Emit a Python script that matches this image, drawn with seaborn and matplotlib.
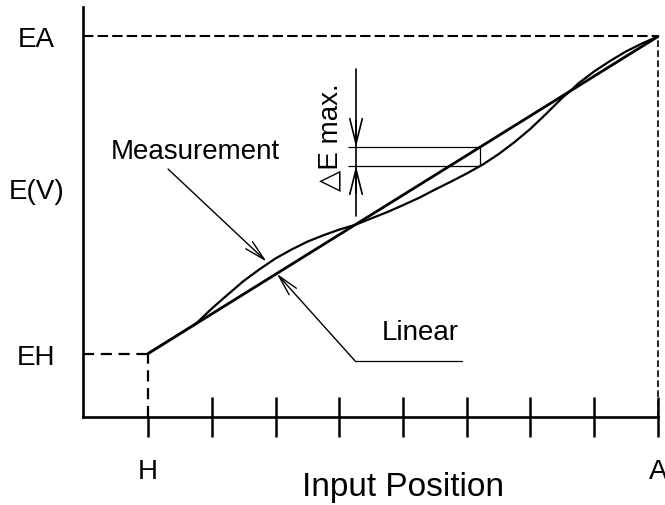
import matplotlib
matplotlib.use('Agg')
import matplotlib.pyplot as plt
import pandas as pd
import seaborn as sns

# ---- data ----
positions = [0, 1, 2, 3, 4, 5, 6, 7, 8]
tick_labels = ['H', '', '', '', '', '', '', '', 'A']
e_levels = [0.2, 1.2]
e_labels = ['EH', 'EA']

linear_x = [0, 8]
linear_e = [0.2, 1.2]

meas_x = [0, 0.75, 1.0, 1.25, 1.5, 1.75, 2.0, 2.25, 2.5, 2.75, 3.0, 3.25,
          3.5, 3.75, 4.0, 4.25, 4.5, 4.75, 5.0, 5.25, 5.5, 5.75, 6.0, 6.25,
          6.5, 6.625, 6.75, 7.0, 7.25, 7.5, 7.75, 8.0]
meas_e = [0.200, 0.294, 0.342, 0.386, 0.429, 0.466, 0.500, 0.528, 0.553,
          0.573, 0.591, 0.606, 0.626, 0.646, 0.668, 0.691, 0.717, 0.742,
          0.768, 0.796, 0.829, 0.867, 0.909, 0.957, 1.007, 1.028, 1.052,
          1.090, 1.123, 1.153, 1.178, 1.200]

dE_x = 5.21
dE_top = 0.851
dE_bottom = 0.792

# ---- style ----
sns.set_style('white')
plt.rcParams['font.family'] = ['Liberation Sans', 'DejaVu Sans']
plt.rcParams['text.color'] = 'black'
plt.rcParams['axes.labelcolor'] = 'black'
plt.rcParams['xtick.color'] = 'black'
plt.rcParams['ytick.color'] = 'black'

fig = plt.figure(figsize=(6.65, 5.06), dpi=100)
ax = fig.add_axes([83 / 665, 88 / 506, 582 / 665, 410 / 506])
ax.set_xlim(-1.02, 8.11)
ax.set_ylim(0, 1.293)

lin_df = pd.DataFrame({'x': linear_x, 'E': linear_e})
meas_df = pd.DataFrame({'x': meas_x, 'E': meas_e})
sns.lineplot(data=lin_df, x='x', y='E', ax=ax, color='black', lw=2.0,
             estimator=None)
sns.lineplot(data=meas_df, x='x', y='E', ax=ax, color='black', lw=1.6,
             estimator=None)

# dashed reference lines
xmin = ax.get_xlim()[0]
ax.hlines(e_levels[0], xmin, positions[0], colors='black', lw=1.6,
          linestyles=(0, (5, 3)))
ax.vlines(positions[0], 0, e_levels[0], colors='black', lw=1.6,
          linestyles=(0, (5, 3)))
ax.hlines(e_levels[1], xmin, positions[-1], colors='black', lw=1.5,
          linestyles=(0, (5, 2)))
ax.vlines(positions[-1], 0, e_levels[1], colors='black', lw=1.2,
          linestyles=(0, (4, 2)))

# axes / ticks
sns.despine(ax=ax)
for s in ('left', 'bottom'):
    ax.spines[s].set_linewidth(1.9)
    ax.spines[s].set_color('black')
ax.spines['bottom'].set_bounds(xmin, positions[-1])

ax.set_xticks(positions[1:], labels=tick_labels[1:])
ax.set_xticks(positions[:1], labels=tick_labels[:1], minor=True)
ax.tick_params(axis='x', which='major', bottom=True, direction='inout',
               length=28.8, width=1.8, pad=15, labelsize=20, color='black')
ax.tick_params(axis='x', which='minor', bottom=True, direction='out',
               length=14.4, width=1.8, pad=15, labelsize=20, color='black')
ax.set_yticks(e_levels, labels=e_labels)
ax.tick_params(axis='y', left=False, length=0, pad=20, labelsize=20)

ax.set_xlabel('Input Position', fontsize=24)
ax.xaxis.set_label_coords(0.549, -0.19)
ax.xaxis.label.set_va('baseline')
ax.set_ylabel('E(V)', fontsize=20, rotation=0, ha='center', va='center')
ax.yaxis.set_label_coords(-0.0799, 0.551)

# annotations
ax.text(0.737, 0.839, 'Measurement', fontsize=20, ha='center', va='center')
ax.annotate('', xy=(1.86, 0.49), xytext=(0.314, 0.782),
            arrowprops=dict(arrowstyle='->,head_length=1.5,head_width=0.35',
                            color='black', lw=1.0, shrinkA=0, shrinkB=0))

ax.text(4.275, 0.268, 'Linear', fontsize=20, ha='center', va='center')
ax.annotate('', xy=(2.02, 0.452), xytext=(3.247, 0.177),
            arrowprops=dict(arrowstyle='->,head_length=1.5,head_width=0.35',
                            color='black', lw=1.0, shrinkA=0, shrinkB=0))
ax.plot([3.247, 4.925], [0.177, 0.177], color='black', lw=0.9)

# delta E max
vx = 3.263
ax.plot([vx, vx], [0.634, 1.098], color='black', lw=1.2)
ax.annotate('', xy=(vx, dE_top), xytext=(vx, dE_top + 0.085),
            arrowprops=dict(arrowstyle='->,head_length=1.8,head_width=0.45',
                            color='black', lw=1.2, shrinkA=0, shrinkB=0))
ax.annotate('', xy=(vx, dE_bottom), xytext=(vx, dE_bottom - 0.085),
            arrowprops=dict(arrowstyle='->,head_length=1.8,head_width=0.45',
                            color='black', lw=1.2, shrinkA=0, shrinkB=0))
ax.hlines([dE_top, dE_bottom], 3.137, dE_x, colors='black', lw=0.9)
ax.vlines(dE_x, dE_bottom, dE_top, colors='black', lw=0.9)
ax.text(2.855, 0.886, '\u25b3E max.', fontsize=20, rotation=90,
        ha='center', va='center')

fig.savefig('out.png', dpi=100)
